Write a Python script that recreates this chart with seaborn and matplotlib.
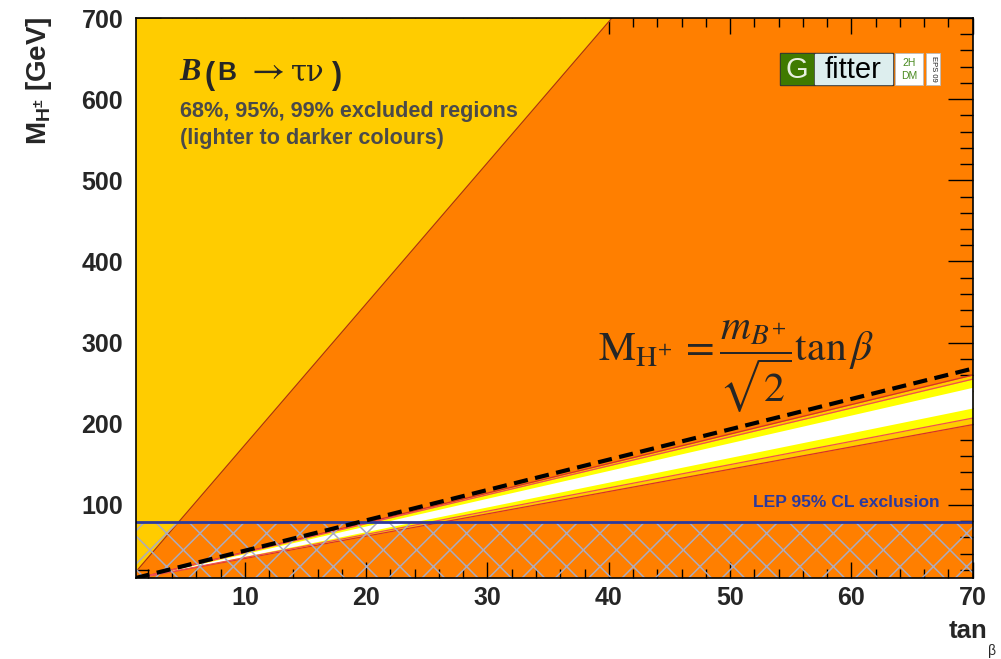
import matplotlib
matplotlib.use("Agg")
import matplotlib.pyplot as plt
import seaborn as sns
from matplotlib.patches import Rectangle
from matplotlib.ticker import MultipleLocator

# ---- axis ranges -------------------------------------------------------
tanb_range = [1, 70]
mh_range = [10, 700]

# ---- boundary of the gold (upper-left) region: line through the origin --
gold_edge_tanb = [0.0, 40.26]
gold_edge_mh = [0.0, 700.0]

# ---- narrow band along M_H ~ m_B tanb / sqrt(2) ------------------------
# each edge given at tanb = 1 and tanb = 70
band_tanb = [1, 70]
band_outer_hi = [9.3, 260.0]
band_mid_hi = [9.3, 255.0]
band_inner_hi = [9.3, 245.0]
band_inner_lo = [9.3, 219.5]
band_mid_lo = [9.3, 207.0]
band_outer_lo = [9.3, 199.0]

# ---- dashed guide line -------------------------------------------------
guide_tanb = [1, 70]
guide_mh = [10, 268]

# ---- LEP direct search limit -------------------------------------------
lep_limit = 79.3

x_ticks = [10, 20, 30, 40, 50, 60, 70]
y_ticks = [100, 200, 300, 400, 500, 600, 700]

ORANGE = "#FF7F00"
GOLD = "#FFCC00"
YELLOW = "#FFFF00"
EDGE_RED = "#D8302A"
EDGE_PINK = "#F05050"
LEP_BLUE = "#2B3A9E"

sns.set_style("ticks")
plt.rcParams["font.family"] = ["Liberation Sans", "DejaVu Sans"]
plt.rcParams["mathtext.fontset"] = "custom"
plt.rcParams["mathtext.rm"] = "Liberation Sans:bold"
plt.rcParams["mathtext.bf"] = "Liberation Sans:bold"
plt.rcParams["mathtext.it"] = "Liberation Sans:bold:italic"
plt.rcParams["hatch.linewidth"] = 1.1

W, H = 1001, 659
fig = plt.figure(figsize=(W / 100, H / 100), dpi=100)
fig.patch.set_facecolor("white")

ax_l, ax_r, ax_t, ax_b = 135.7, 972.7, 18.0, 578.0
ax = fig.add_axes([ax_l / W, 1 - ax_b / H, (ax_r - ax_l) / W, (ax_b - ax_t) / H])
ax.set_facecolor(ORANGE)


def fp(x, y_top):
    """figure-fraction coordinates from pixel position measured from top-left"""
    return x / W, 1 - y_top / H


# gold region above the straight boundary
ax.fill_between(gold_edge_tanb, gold_edge_mh, mh_range[1], color=GOLD, lw=0, zorder=1)
sns.lineplot(x=gold_edge_tanb, y=gold_edge_mh, ax=ax, color="#B03010", lw=0.9, zorder=2)

# confidence band (outer to inner)
ax.fill_between(band_tanb, band_outer_lo, band_outer_hi, color=GOLD, lw=0, zorder=2)
ax.fill_between(band_tanb, band_mid_lo, band_mid_hi, color=YELLOW, lw=0, zorder=2)
ax.fill_between(band_tanb, band_inner_lo, band_inner_hi, color="white", lw=0, zorder=2)
for edge, col in [(band_outer_hi, EDGE_RED), (band_outer_lo, EDGE_RED),
                  (band_mid_hi, EDGE_PINK), (band_mid_lo, EDGE_PINK)]:
    sns.lineplot(x=band_tanb, y=edge, ax=ax, color=col, lw=0.9, zorder=3)

# LEP excluded region
ax.fill_between(tanb_range, mh_range[0], lep_limit, facecolor="none",
                edgecolor="#ABABBE", hatch="x", lw=0, zorder=4)
ax.axhline(lep_limit, color=LEP_BLUE, lw=2.0, zorder=5)
ax.text(67.3, 102.5, "LEP 95% CL exclusion", color=LEP_BLUE, fontsize=12.6,
        fontweight="bold", ha="right", va="center", zorder=6)

# dashed guide line
sns.lineplot(x=guide_tanb, y=guide_mh, ax=ax, color="black", lw=3.0, zorder=6)
ax.lines[-1].set_linestyle((0, (3.4, 1.8)))

ax.set_xlim(*tanb_range)
ax.set_ylim(*mh_range)
ax.set_xticks(x_ticks)
ax.set_yticks(y_ticks)
ax.xaxis.set_minor_locator(MultipleLocator(2))
ax.yaxis.set_minor_locator(MultipleLocator(20))
ax.set_xlabel("")
ax.set_ylabel("")
ax.tick_params(axis="both", which="both", direction="in", top=True, right=True,
               width=1.0, color="black", labelsize=18)
ax.tick_params(axis="x", which="major", length=11.5, pad=6)
ax.tick_params(axis="x", which="minor", length=6.5)
ax.tick_params(axis="y", which="major", length=18, pad=9)
ax.tick_params(axis="y", which="minor", length=9.5)
for lab in ax.get_xticklabels() + ax.get_yticklabels():
    lab.set_fontweight("bold")
for sp in ax.spines.values():
    sp.set_visible(True)
    sp.set_linewidth(1.2)
    sp.set_color("black")
    sp.set_zorder(10)

# axis titles
fig.text(*fp(24, 16), r"$\mathbf{M}_{\mathbf{H}^{\pm}}$ [GeV]", rotation=90,
         ha="left", va="top", fontsize=20, fontweight="bold")
fig.text(*fp(987, 638), "tan", ha="right", va="baseline", fontsize=18.5, fontweight="bold")
fig.text(*fp(988, 655), "β", ha="left", va="baseline", fontsize=10)

# process label
base = 80
fig.text(*fp(179, base), "B", family="Liberation Serif", style="italic",
         weight="bold", fontsize=23, va="baseline")
fig.text(*fp(205, base + 4), "(", fontsize=22, weight="bold", va="baseline")
fig.text(*fp(217, base), "B", fontsize=19, weight="bold", va="baseline")
fig.text(*fp(246, base - 1), r"$\rightarrow$", math_fontfamily="stix",
         fontsize=26, va="baseline")
fig.text(*fp(291, base), "τν", family="DejaVu Serif", fontsize=21, va="baseline")
fig.text(*fp(332, base + 4), ")", fontsize=22, weight="bold", va="baseline")
fig.text(*fp(180, 117), "68%, 95%, 99% excluded regions", color="#4A4A4A",
         fontsize=15.6, weight="bold", va="baseline")
fig.text(*fp(180, 144), "(lighter to darker colours)", color="#4A4A4A",
         fontsize=15.6, weight="bold", va="baseline")

# relation for the dashed line
fig.text(*fp(598, 360),
         r"$\mathrm{M}_{\mathrm{H}^{+}}\,=\dfrac{m_{B^{+}}}{\sqrt{2}}\tan\beta$",
         math_fontfamily="stix", fontsize=30, ha="left", va="baseline")

# Gfitter logo
def box(x0, y0, x1, y1, fc, ec="#333333", lw=1.0):
    fig.patches.append(Rectangle(fp(x0, y1), (x1 - x0) / W, (y1 - y0) / H,
                                 transform=fig.transFigure, facecolor=fc,
                                 edgecolor=ec, lw=lw, zorder=20))

box(780, 53, 893, 85, "#333333")
box(781, 54, 813, 84, "#3F7A00", ec="#3F7A00")
box(815, 54, 892, 84, "#DDEEEE", ec="#DDEEEE")
box(895, 53, 923, 85, "white", ec="#BBBBBB", lw=0.6)
box(926, 53, 940, 85, "white", ec="#BBBBBB", lw=0.6)
fig.text(*fp(797, 70), "G", color="#E8F0E0", fontsize=21, ha="center", va="center", zorder=21)
fig.text(*fp(853, 70), "fitter", color="black", fontsize=21, ha="center", va="center", zorder=21)
fig.text(*fp(909, 63), "2H", color="#4A8A20", fontsize=7.5, ha="center", va="center", zorder=21)
fig.text(*fp(909, 76), "DM", color="#4A8A20", fontsize=7.5, ha="center", va="center", zorder=21)
fig.text(*fp(933, 69), "EPS 09", color="#222222", fontsize=5.5, rotation=-90,
         ha="center", va="center", zorder=21)

fig.savefig("out.png", dpi=100, facecolor="white")
